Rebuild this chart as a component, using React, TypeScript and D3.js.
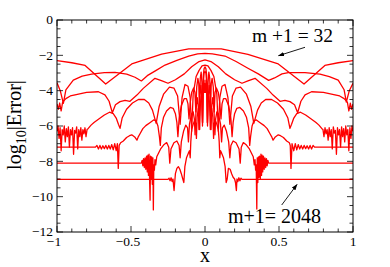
import React from "react";
import * as d3 from "d3";

// ---- data (x, log10|Error|) ----
const m32: [number, number][] = [
  [-1, -2.3], [-0.9, -2.42], [-0.81, -2.57], [-0.671, -3.62], [-0.495, -2.49], [-0.293, -1.93], [-0.11, -1.64],
  [0.11, -1.64], [0.29, -1.95], [0.495, -2.49], [0.669, -3.62], [0.81, -2.57], [0.9, -2.42], [1, -2.3],
];

const m64: [number, number][] = [
  [-1, -3.55], [-0.978, -4.0], [-0.957, -4.72], [-0.94, -3.95], [-0.89, -3.4], [-0.83, -3.18], [-0.766, -3.06],
  [-0.68, -2.98], [-0.608, -2.96], [-0.529, -3.06], [-0.473, -3.24], [-0.43, -3.45], [-0.39, -3.15], [-0.33, -2.85],
  [-0.27, -2.55], [-0.19, -2.28], [-0.11, -2.05], [-0.05, -1.92], [0, -1.89], [0.05, -1.92], [0.135, -2.04],
  [0.21, -2.35], [0.29, -2.73], [0.36, -3.05], [0.43, -3.42], [0.47, -3.28], [0.52, -3.05], [0.563, -2.98],
  [0.676, -2.98], [0.777, -3.06], [0.84, -3.2], [0.9, -3.4], [0.94, -3.95], [0.955, -4.65], [0.975, -4.0], [1, -3.58],
];

const m128: [number, number][] = [
  [-1, -4.75], [-0.99, -5.05], [-0.982, -4.7], [-0.972, -5.15], [-0.962, -4.65], [-0.94, -4.45], [-0.91, -4.3],
  [-0.878, -4.24], [-0.8, -4.1], [-0.72, -4.06], [-0.676, -4.24], [-0.648, -4.6], [-0.626, -5.25], [-0.605, -4.8],
  [-0.574, -4.62], [-0.54, -4.55], [-0.507, -4.6], [-0.46, -4.25], [-0.417, -3.87], [-0.338, -3.3], [-0.29, -3.45],
  [-0.25, -3.58], [-0.2, -3.38], [-0.14, -3.05], [-0.09, -2.65], [-0.04, -2.35], [0, -2.26], [0.04, -2.35],
  [0.09, -2.65], [0.14, -3.05], [0.2, -3.38], [0.25, -3.58], [0.29, -3.45], [0.338, -3.3], [0.417, -3.87],
  [0.46, -4.25], [0.507, -4.6], [0.54, -4.55], [0.574, -4.62], [0.605, -4.8], [0.626, -5.25], [0.648, -4.6],
  [0.676, -4.24], [0.72, -4.06], [0.8, -4.1], [0.878, -4.24], [0.91, -4.3], [0.94, -4.45], [0.962, -4.65],
  [0.972, -5.15], [0.982, -4.7], [0.99, -5.05], [1, -4.75],
];

const m256: [number, number][] = [
  [-1, -6.3], [-0.993, -6.0], [-0.986, -6.7], [-0.979, -6.1], [-0.972, -7.4], [-0.965, -6.2], [-0.958, -6.5],
  [-0.951, -6.0], [-0.944, -6.9], [-0.937, -6.15], [-0.93, -6.6], [-0.923, -6.05], [-0.916, -7.2], [-0.909, -6.2],
  [-0.902, -6.5], [-0.895, -6.1], [-0.888, -7.6], [-0.881, -6.25], [-0.874, -6.4], [-0.867, -6.05], [-0.86, -7.3],
  [-0.853, -6.2], [-0.846, -6.6], [-0.839, -6.1], [-0.832, -6.8], [-0.825, -6.2], [-0.818, -6.45], [-0.811, -6.1],
  [-0.804, -6.6], [-0.797, -6.2], [-0.79, -6.15], [-0.77, -5.95], [-0.75, -5.8], [-0.72, -5.62], [-0.68, -5.38],
  [-0.645, -5.22], [-0.62, -5.3], [-0.6, -5.55], [-0.585, -5.9], [-0.574, -6.13], [-0.56, -5.55], [-0.53, -5.05],
  [-0.49, -4.7], [-0.45, -4.5], [-0.41, -4.5], [-0.38, -4.7], [-0.355, -5.1], [-0.33, -5.85], [-0.31, -4.9],
  [-0.28, -4.2], [-0.24, -3.8], [-0.21, -3.85], [-0.185, -4.3], [-0.168, -5.9], [-0.155, -4.4], [-0.135, -3.65],
  [-0.115, -3.75], [-0.1, -4.4], [-0.09, -6.3], [-0.08, -4.2], [-0.06, -3.2], [-0.04, -2.85], [-0.02, -2.6],
  [0, -2.55], [0.02, -2.6], [0.04, -2.85], [0.06, -3.2], [0.08, -4.2], [0.09, -6.3], [0.1, -4.4], [0.115, -3.75],
  [0.135, -3.65], [0.155, -4.4], [0.168, -5.9], [0.185, -4.3], [0.21, -3.85], [0.24, -3.8], [0.28, -4.2],
  [0.31, -4.9], [0.33, -5.85], [0.355, -5.1], [0.38, -4.7], [0.41, -4.5], [0.45, -4.5], [0.49, -4.7], [0.53, -5.05],
  [0.56, -5.55], [0.574, -6.13], [0.585, -5.9], [0.6, -5.55], [0.62, -5.3], [0.645, -5.22], [0.68, -5.38],
  [0.72, -5.62], [0.75, -5.8], [0.77, -5.95], [0.79, -6.15], [0.797, -6.2], [0.804, -6.6], [0.811, -6.1],
  [0.818, -6.45], [0.825, -6.2], [0.832, -6.8], [0.839, -6.1], [0.846, -6.6], [0.853, -6.2], [0.86, -7.3],
  [0.867, -6.05], [0.874, -6.4], [0.881, -6.25], [0.888, -7.6], [0.895, -6.1], [0.902, -6.5], [0.909, -6.2],
  [0.916, -7.2], [0.923, -6.05], [0.93, -6.6], [0.937, -6.15], [0.944, -6.9], [0.951, -6.0], [0.958, -6.5],
  [0.965, -6.2], [0.972, -7.4], [0.979, -6.1], [0.986, -6.7], [0.993, -6.0], [1, -6.3],
];

const m512: [number, number][] = [
  [-1, -7.2], [-0.74, -7.2], [-0.73, -7.1], [-0.72, -7.3], [-0.71, -7.1], [-0.7, -7.3], [-0.69, -7.12],
  [-0.68, -7.28], [-0.67, -7.1], [-0.66, -7.3], [-0.65, -7.1], [-0.64, -7.3], [-0.63, -7.05], [-0.62, -7.35],
  [-0.61, -7.0], [-0.6, -7.4], [-0.592, -7.0], [-0.586, -8.4], [-0.58, -7.1], [-0.57, -6.95], [-0.552, -6.85],
  [-0.53, -6.65], [-0.51, -6.55], [-0.495, -6.5], [-0.475, -6.62], [-0.46, -6.8], [-0.45, -6.6], [-0.44, -6.45],
  [-0.42, -6.15], [-0.4, -5.98], [-0.37, -5.8], [-0.345, -5.65], [-0.33, -5.72], [-0.318, -6.0], [-0.308, -6.6],
  [-0.302, -7.1], [-0.295, -6.1], [-0.28, -5.5], [-0.26, -5.15], [-0.235, -4.95], [-0.215, -5.0], [-0.2, -5.3],
  [-0.19, -5.8], [-0.183, -6.6], [-0.175, -5.6], [-0.16, -4.85], [-0.14, -4.45], [-0.125, -4.45], [-0.115, -4.75],
  [-0.108, -5.6], [-0.1, -4.7], [-0.09, -4.1], [-0.077, -3.85], [-0.068, -4.1], [-0.062, -5.2], [-0.056, -3.8],
  [-0.048, -3.3], [-0.042, -3.6], [-0.037, -5.4], [-0.032, -3.3], [-0.026, -2.95], [-0.021, -3.5], [-0.016, -5.8],
  [-0.011, -3.1], [-0.006, -2.75], [0, -2.65], [0.006, -2.75], [0.011, -3.1], [0.016, -5.8], [0.021, -3.5],
  [0.026, -2.95], [0.032, -3.3], [0.037, -5.4], [0.042, -3.6], [0.048, -3.3], [0.056, -3.8], [0.062, -5.2],
  [0.068, -4.1], [0.077, -3.85], [0.09, -4.1], [0.1, -4.7], [0.108, -5.6], [0.115, -4.75], [0.125, -4.45],
  [0.14, -4.45], [0.16, -4.85], [0.175, -5.6], [0.183, -6.6], [0.19, -5.8], [0.2, -5.3], [0.215, -5.0],
  [0.235, -4.95], [0.26, -5.15], [0.28, -5.5], [0.295, -6.1], [0.302, -7.1], [0.308, -6.6], [0.318, -6.0],
  [0.33, -5.72], [0.345, -5.65], [0.37, -5.8], [0.4, -5.98], [0.42, -6.15], [0.44, -6.45], [0.45, -6.6],
  [0.46, -6.8], [0.475, -6.62], [0.495, -6.5], [0.51, -6.55], [0.53, -6.65], [0.552, -6.85], [0.57, -6.95],
  [0.576, -7.1], [0.581, -8.4], [0.588, -7.0], [0.6, -7.4], [0.61, -7.0], [0.62, -7.35], [0.63, -7.05],
  [0.64, -7.3], [0.65, -7.1], [0.66, -7.3], [0.67, -7.1], [0.68, -7.28], [0.69, -7.12], [0.7, -7.3], [0.71, -7.1],
  [0.72, -7.3], [0.73, -7.1], [0.74, -7.2], [1, -7.2],
];

const m1024: [number, number][] = [
  [-1, -8.1], [-0.43, -8.1], [-0.425, -7.95], [-0.42, -8.25], [-0.415, -7.85], [-0.41, -8.35], [-0.405, -7.8],
  [-0.4, -8.45], [-0.395, -7.7], [-0.39, -8.6], [-0.386, -7.65], [-0.382, -8.8], [-0.378, -7.6], [-0.374, -9.2],
  [-0.371, -10.2], [-0.368, -7.7], [-0.364, -9.0], [-0.36, -7.75], [-0.356, -9.3], [-0.352, -7.8], [-0.349, -10.75],
  [-0.346, -8.2], [-0.342, -8.5], [-0.338, -7.9], [-0.333, -8.2], [-0.326, -7.74], [-0.3, -7.3], [-0.28, -7.08],
  [-0.259, -6.94], [-0.245, -7.2], [-0.238, -8.1], [-0.23, -7.3], [-0.21, -6.95], [-0.19, -6.85], [-0.175, -7.1],
  [-0.168, -7.8], [-0.16, -6.9], [-0.145, -6.3], [-0.13, -5.95], [-0.118, -6.1], [-0.112, -6.9], [-0.105, -5.9],
  [-0.09, -5.3], [-0.08, -5.2], [-0.072, -5.6], [-0.067, -6.5], [-0.06, -5.0], [-0.052, -4.4], [-0.046, -4.8],
  [-0.041, -6.2], [-0.035, -4.3], [-0.028, -3.7], [-0.022, -4.3], [-0.017, -6.0], [-0.012, -3.6], [-0.006, -3.0],
  [0, -2.9], [0.006, -3.0], [0.012, -3.6], [0.017, -6.0], [0.022, -4.3], [0.028, -3.7], [0.035, -4.3],
  [0.041, -6.2], [0.046, -4.8], [0.052, -4.4], [0.06, -5.0], [0.067, -6.5], [0.072, -5.6], [0.08, -5.2],
  [0.09, -5.3], [0.105, -5.9], [0.112, -6.9], [0.118, -6.1], [0.13, -5.95], [0.145, -6.3], [0.16, -6.9],
  [0.168, -7.8], [0.175, -7.1], [0.19, -6.85], [0.21, -6.95], [0.23, -7.3], [0.238, -8.1], [0.245, -7.2],
  [0.259, -6.94], [0.28, -7.08], [0.3, -7.3], [0.326, -7.74], [0.333, -8.2], [0.338, -7.9], [0.342, -8.5],
  [0.346, -8.2], [0.35, -10.7], [0.353, -7.8], [0.357, -9.2], [0.361, -7.75], [0.365, -8.9], [0.369, -7.7],
  [0.374, -9.0], [0.378, -7.6], [0.382, -8.8], [0.386, -7.65], [0.39, -8.6], [0.395, -7.7], [0.4, -8.45],
  [0.405, -7.8], [0.41, -8.35], [0.415, -7.85], [0.42, -8.25], [0.425, -7.95], [0.43, -8.1], [1, -8.1],
];

const m2048: [number, number][] = [
  [-1, -9.02], [-0.25, -9.02], [-0.243, -8.95], [-0.236, -9.1], [-0.229, -8.93], [-0.222, -9.15], [-0.216, -9.0],
  [-0.212, -9.4], [-0.209, -9.65], [-0.2, -8.7], [-0.19, -8.4], [-0.18, -8.3], [-0.17, -8.45], [-0.16, -8.7],
  [-0.15, -9.0], [-0.143, -9.2], [-0.136, -8.3], [-0.125, -7.8], [-0.113, -7.55], [-0.105, -7.4], [-0.1, -7.8],
  [-0.096, -6.9], [-0.09, -6.2], [-0.08, -5.9], [-0.068, -5.66], [-0.062, -5.9], [-0.058, -6.7], [-0.053, -5.5],
  [-0.045, -5.0], [-0.04, -5.2], [-0.036, -6.2], [-0.031, -4.7], [-0.025, -4.3], [-0.021, -4.6], [-0.017, -5.8],
  [-0.013, -4.0], [-0.008, -3.6], [-0.004, -4.1], [0, -3.4], [0.004, -4.1], [0.008, -3.6], [0.013, -4.0],
  [0.017, -5.8], [0.021, -4.6], [0.025, -4.3], [0.031, -4.7], [0.036, -6.2], [0.04, -5.2], [0.045, -5.0],
  [0.053, -5.5], [0.058, -6.7], [0.062, -5.9], [0.068, -5.66], [0.08, -5.9], [0.09, -6.2], [0.096, -6.9],
  [0.1, -7.8], [0.105, -7.4], [0.113, -7.55], [0.125, -7.8], [0.136, -8.3], [0.143, -9.2], [0.15, -9.0],
  [0.158, -8.4], [0.17, -8.45], [0.18, -8.7], [0.19, -8.9], [0.2, -9.0], [0.206, -9.2], [0.212, -9.65],
  [0.216, -9.0], [0.222, -9.15], [0.229, -8.93], [0.236, -9.1], [0.243, -8.95], [0.25, -9.02], [1, -9.02],
];

const seriesList = [m32, m64, m128, m256, m512, m1024, m2048];

const xTicksMajor = [-1, -0.5, 0, 0.5, 1];
const xTickLabels = ["\u22121", "\u22120.5", "0", "0.5", "1"];
const yTicksMajor = [0, -2, -4, -6, -8, -10, -12];
const yTickLabels = ["0", "\u22122", "\u22124", "\u22126", "\u22128", "\u221210", "\u221212"];

const topLabel = "m +1 = 32";
const bottomLabel = "m+1= 2048";

const W = 390;
const H = 267;
const L = 57;
const R = 353;
const T = 20;
const B = 232;

const FONT = "'Liberation Serif', 'DejaVu Serif', 'Times New Roman', serif";

export default function App() {
  const x = d3.scaleLinear().domain([-1, 1]).range([L, R]);
  const y = d3.scaleLinear().domain([-12, 0]).range([B, T]);
  const line = d3
    .line<[number, number]>()
    .x((d) => x(d[0]))
    .y((d) => y(d[1]));

  const xMinor = d3.range(-10, 11).map((i) => i / 10).filter((v) => !xTicksMajor.some((m) => Math.abs(m - v) < 1e-9));
  const yMinor = d3.range(0, 25).map((i) => -i / 2).filter((v) => !yTicksMajor.some((m) => Math.abs(m - v) < 1e-9));

  const majorLen = 6;
  const minorLen = 3.5;

  return (
    <svg
      width={W}
      height={H}
      viewBox={`0 0 ${W} ${H}`}
      style={{ position: "absolute", left: 0, top: 0, background: "#fff" }}
    >
      <defs>
        <clipPath id="plotclip">
          <rect x={L} y={T} width={R - L} height={B - T} />
        </clipPath>
        <marker id="ah" viewBox="0 0 10 10" refX="9" refY="5" markerWidth="7" markerHeight="7" orient="auto">
          <path d="M0,1.5 L10,5 L0,8.5 Z" fill="#000" />
        </marker>
      </defs>

      <g clipPath="url(#plotclip)" fill="none" stroke="#ff0000" strokeWidth={1.3} strokeLinejoin="round">
        {seriesList.map((s, i) => (
          <path key={i} d={line(s) || ""} />
        ))}
      </g>

      {/* frame */}
      <rect x={L} y={T} width={R - L} height={B - T} fill="none" stroke="#000" strokeWidth={1} />

      {/* ticks on all four sides, pointing inward */}
      <g stroke="#000" strokeWidth={0.8}>
        {xTicksMajor.map((v) => (
          <g key={"xM" + v}>
            <line x1={x(v)} x2={x(v)} y1={B} y2={B - majorLen} />
            <line x1={x(v)} x2={x(v)} y1={T} y2={T + majorLen} />
          </g>
        ))}
        {xMinor.map((v) => (
          <g key={"xm" + v}>
            <line x1={x(v)} x2={x(v)} y1={B} y2={B - minorLen} />
            <line x1={x(v)} x2={x(v)} y1={T} y2={T + minorLen} />
          </g>
        ))}
        {yTicksMajor.map((v) => (
          <g key={"yM" + v}>
            <line x1={L} x2={L + majorLen} y1={y(v)} y2={y(v)} />
            <line x1={R} x2={R - majorLen} y1={y(v)} y2={y(v)} />
          </g>
        ))}
        {yMinor.map((v) => (
          <g key={"ym" + v}>
            <line x1={L} x2={L + minorLen} y1={y(v)} y2={y(v)} />
            <line x1={R} x2={R - minorLen} y1={y(v)} y2={y(v)} />
          </g>
        ))}
      </g>

      {/* tick labels */}
      <g fontFamily={FONT} fontSize={13.5} fill="#000">
        {xTicksMajor.map((v, i) => (
          <text key={"xl" + v} x={x(v) + (v < 0 ? -3 : 0)} y={246} textAnchor="middle">
            {xTickLabels[i]}
          </text>
        ))}
        {yTicksMajor.map((v, i) => (
          <text key={"yl" + v} x={53} y={y(v) + 4.3} textAnchor="end">
            {yTickLabels[i]}
          </text>
        ))}
      </g>

      {/* axis titles */}
      <text x={205} y={262} textAnchor="middle" fontFamily={FONT} fontSize={20} fill="#000">
        x
      </text>
      <text
        transform="translate(21,125) rotate(-90)"
        textAnchor="middle"
        fontFamily={FONT}
        fontSize={20}
        fill="#000"
      >
        log
        <tspan fontSize={14} dy={5}>10</tspan>
        <tspan dy={-5}>|Error|</tspan>
      </text>

      {/* annotations */}
      <text x={252} y={41.5} fontFamily={FONT} fontSize={19.5} fill="#000">
        {topLabel}
      </text>
      <line x1={305} y1={47.3} x2={278.5} y2={55.7} stroke="#000" strokeWidth={0.9} markerEnd="url(#ah)" />
      <text x={228} y={222.5} fontFamily={FONT} fontSize={20} fill="#000">
        {bottomLabel}
      </text>
      <line x1={281.7} y1={205} x2={297} y2={184.5} stroke="#000" strokeWidth={0.9} markerEnd="url(#ah)" />
    </svg>
  );
}
